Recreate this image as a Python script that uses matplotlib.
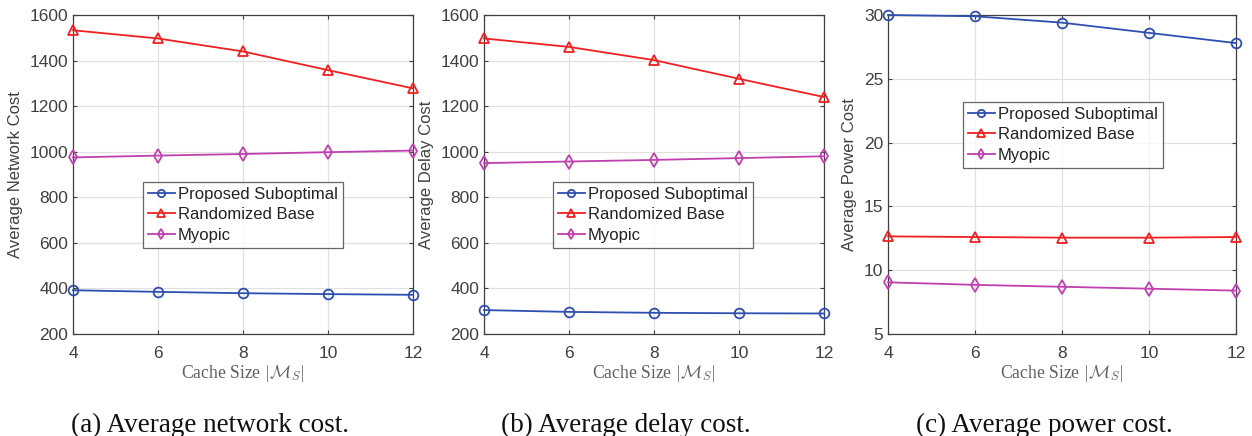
import matplotlib
matplotlib.use("Agg")
import matplotlib.pyplot as plt

plt.rcParams['mathtext.fontset'] = 'cm'
plt.rcParams['font.family'] = ['Liberation Sans', 'DejaVu Sans']

cache_sizes = [4, 6, 8, 10, 12]
series_names = ["Proposed Suboptimal", "Randomized Base", "Myopic"]

network_proposed = [392, 385, 379, 375, 372]
network_random = [1533, 1497, 1440, 1358, 1278]
network_myopic = [975, 983, 990, 998, 1005]

delay_proposed = [305, 297, 293, 291, 290]
delay_random = [1497, 1460, 1402, 1320, 1240]
delay_myopic = [950, 957, 964, 972, 980]

power_proposed = [30.0, 29.9, 29.4, 28.6, 27.8]
power_random = [12.65, 12.6, 12.55, 12.55, 12.6]
power_myopic = [9.05, 8.85, 8.7, 8.55, 8.4]

ylabels = ["Average Network Cost", "Average Delay Cost", "Average Power Cost"]
captions = ["(a) Average network cost.", "(b) Average delay cost.", "(c) Average power cost."]

W, H = 1252, 436
fig = plt.figure(figsize=(W / 100, H / 100), dpi=100)

def px_axes(l, r, t, b):
    return fig.add_axes([l / W, 1 - b / H, (r - l) / W, (b - t) / H])

axes_px = [(73, 413, 15, 334), (484, 824, 15, 334), (888, 1236, 15, 334)]
ylims = [(200, 1600), (200, 1600), (5, 30)]
yticks = [list(range(200, 1601, 200)), list(range(200, 1601, 200)), [5, 10, 15, 20, 25, 30]]
legend_pos = [(143, 182), (553, 182), (963, 102)]
caption_x = [210, 626, 1044]

data = [
    (network_proposed, network_random, network_myopic),
    (delay_proposed, delay_random, delay_myopic),
    (power_proposed, power_random, power_myopic),
]
colors = ["#2f4fb0", "#f02020", "#c040b0"]
markers = ["o", "^", "d"]
txt = "#404040"

for i in range(3):
    ax = px_axes(*axes_px[i])
    for vals, c, m, name in zip(data[i], colors, markers, series_names):
        ax.plot(cache_sizes, vals, color=c, marker=m, markerfacecolor="none",
                markeredgecolor=c, markersize=7, markeredgewidth=1.3, lw=1.3,
                label=name, clip_on=False, zorder=3)
    ax.set_xlim(4, 12)
    ax.set_ylim(*ylims[i])
    ax.set_xticks(cache_sizes)
    ax.set_yticks(yticks[i])
    ax.grid(True, color="#e0e0e0", lw=0.9)
    ax.set_axisbelow(True)
    for s in ax.spines.values():
        s.set_color("#404040")
        s.set_linewidth(0.9)
    ax.tick_params(colors=txt, labelsize=12.5, direction="in", length=3, width=0.8,
                   top=True, right=True)
    ax.tick_params(axis="x", pad=8.5)
    ax.tick_params(axis="y", pad=3.5)
    ax.set_ylabel(ylabels[i], fontsize=12, color=txt, labelpad=5)
    ax.set_xlabel(r"Cache Size $|\mathcal{M}_S|$", fontsize=12.7, color="#606060",
                  family="Liberation Serif", labelpad=1.5)
    lx, ly = legend_pos[i]
    leg = ax.legend(loc="upper left", bbox_to_anchor=((lx - axes_px[i][0]) / (axes_px[i][1] - axes_px[i][0]),
                                                      1 - (ly - 15) / (334 - 15)),
                    fontsize=12, frameon=True, fancybox=False, borderaxespad=0,
                    handlelength=1.6, handletextpad=0.2, labelspacing=0.32,
                    borderpad=0.3, markerscale=0.75)
    leg.get_frame().set_edgecolor("#404040")
    leg.get_frame().set_linewidth(0.9)
    for t in leg.get_texts():
        t.set_color("#222222")
    fig.text(caption_x[i] / W, 1 - 425 / H, captions[i], ha="center", va="center",
             fontsize=19.5, family="Liberation Serif", color="#111111")

fig.savefig("out.png", dpi=100)
